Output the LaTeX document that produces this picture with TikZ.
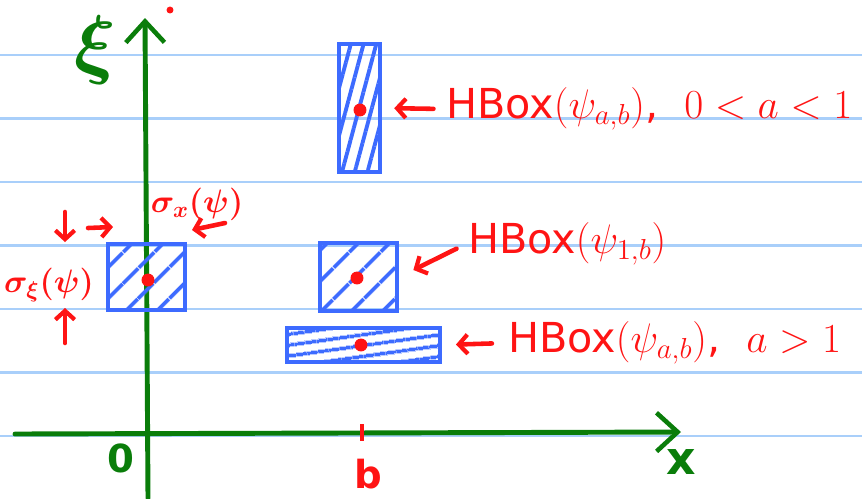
\RequirePackage{fix-cm}
\documentclass[tikz,border=0pt]{standalone}
\usepackage{amsmath,amssymb}
\usepackage{fontspec}
\setmainfont{DejaVu Sans}
\usepackage{xcolor}
\usepackage{tikz}
\usetikzlibrary{arrows.meta,calc,positioning,patterns.meta}
\definecolor{paperblue}{HTML}{A9CFFA}
\definecolor{inkgreen}{HTML}{0A7D0A}
\definecolor{inkred}{HTML}{FF1414}
\definecolor{boxblue}{HTML}{3D6BFF}
\tikzset{
  ruling/.style={paperblue,line width=1.3pt},
  axisline/.style={inkgreen,line width=2.8pt,line cap=round,-{Straight Barb[length=12pt,width=22pt,line width=2.6pt]}},
  hbox/.style={draw=boxblue,line width=2.5pt,inner sep=0pt,pattern color=boxblue},
  centre/.style={circle,fill=inkred,inner sep=2.6pt},
  pointer/.style={inkred,line width=2.6pt,line cap=round,-{Straight Barb[length=5pt,width=11pt,line width=2.4pt]}},
  note/.style={inkred,font=\fontsize{23.5}{26}\selectfont,inner sep=1pt},
  sigmanote/.style={inkred,font=\fontsize{18.5}{21}\selectfont\boldmath,inner sep=1pt}
}

\begin{document}
\begin{tikzpicture}[x=0.02cm,y=-0.02cm]
\useasboundingbox (0,0) rectangle (862,498);
\foreach \k in {0,...,6}
  \draw[ruling] (0,55+63.5*\k) -- (862,55+63.5*\k);
% axes
\coordinate (xifoot) at (148,498);
\coordinate (xitip) at (145,18);
\coordinate (xstart) at (15,434);
\coordinate (xtip) at (681,432);
\draw[axisline] (xifoot) -- (xitip);
\draw[axisline] (xstart) -- (xtip);
\node[inkgreen,font=\fontsize{44}{44}\selectfont\boldmath] (xilabel) at (95,50) {$\xi$};
\node[inkgreen,font=\fontsize{22}{24}\selectfont\bfseries] (origin) at (121,458) {0};
\node[inkgreen,font=\fontsize{26}{28}\selectfont\bfseries] (xlabel) at (681,462) {x};
\node[circle,fill=inkred,inner sep=1.4pt] (speck) at (170,10) {};
\coordinate (btop) at (362,424);
\coordinate (bbot) at (362,441);
\draw[inkred,line width=2.8pt] (btop) -- (bbot);
\node[inkred,font=\fontsize{22}{24}\selectfont\bfseries] (blabel) at (368,474) {b};
% boxes
\node[hbox,minimum width=1.54cm,minimum height=1.32cm,
  pattern={Lines[angle=45,distance=13pt,line width=2.4pt]}] (origbox) at (146.5,277) {};
\node[hbox,minimum width=0.82cm,minimum height=2.56cm,
  pattern={Lines[angle=75,distance=7pt,line width=2.2pt]}] (tall) at (359.5,108) {};
\node[hbox,minimum width=1.54cm,minimum height=1.36cm,
  pattern={Lines[angle=45,distance=13pt,line width=2.4pt]}] (mid) at (358.5,277) {};
\node[hbox,minimum width=3.06cm,minimum height=0.68cm,
  pattern={Lines[angle=8,distance=6.5pt,line width=2.2pt]}] (wide) at (363.5,345) {};
\node[centre] (origdot) at (148,280) {};
\node[centre] (talldot) at (360,110) {};
\node[centre] (middot) at (357,278) {};
\node[centre] (widedot) at (361,345) {};
% labels
\node[note,anchor=west] (lbltall) at (444,109) {HBox$(\psi_{a,b})$, \ $0<a<1$};
\node[note,anchor=west] (lblmid) at (466,244) {HBox$(\psi_{1,b})$};
\node[note,anchor=west] (lblwide) at (506,343) {HBox$(\psi_{a,b})$, \ $a>1$};
\draw[pointer,shorten <=6pt,shorten >=7pt] (lbltall.west) -- (tall.east);
\draw[pointer,shorten <=6pt,shorten >=9pt] (lblmid.west) -- (mid.east);
\draw[pointer,shorten <=8pt,shorten >=8pt] (lblwide.west) -- (wide.east);
% widths
\node[sigmanote] (sigx) at (197,204) {$\sigma_x(\psi)$};
\node[sigmanote] (sigxi) at (49,285) {$\sigma_\xi(\psi)$};
\coordinate (rfrom) at (88,228);
\coordinate (rto) at (113,227);
\coordinate (lfrom) at (225,223);
\coordinate (lto) at (192,230);
\coordinate (dfrom) at (65,212);
\coordinate (dto) at (65,242);
\coordinate (ufrom) at (65,343);
\coordinate (uto) at (65,308);
\draw[pointer] (rfrom) -- (rto);
\draw[pointer] (lfrom) -- (lto);
\draw[pointer] (dfrom) -- (dto);
\draw[pointer] (ufrom) -- (uto);
\end{tikzpicture}
\end{document}
